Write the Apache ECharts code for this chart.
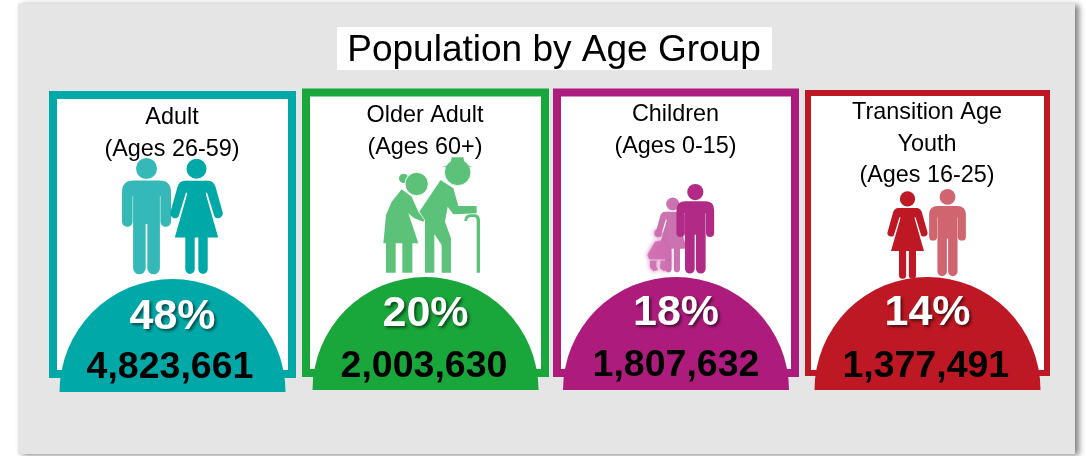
<!DOCTYPE html>
<html>
<head>
<meta charset="utf-8">
<style>html,body{margin:0;padding:0;background:#fff}#chart{width:1086px;height:456px}</style>
<script src="https://cdn.jsdelivr.net/npm/echarts@6/dist/echarts.min.js"></script>
</head>
<body>
<div id="chart"></div>
<script>
// Values shown on the age group cards
const chartTitle = 'Population by Age Group';
const categories = ['Adult', 'Older Adult', 'Children', 'Transition Age Youth'];
const labelLines = [
  ['Adult', '(Ages 26-59)'],
  ['Older Adult', '(Ages 60+)'],
  ['Children', '(Ages 0-15)'],
  ['Transition Age', 'Youth', '(Ages 16-25)']
];
const sharePercent = [48, 20, 18, 14];
const population = [4823661, 2003630, 1807632, 1377491];

// Palette per card
const mainColors = ['#00a9a8', '#19a63a', '#ad1c7c', '#bd1823'];
const softColors = ['#35b9b8', '#5cc27a', '#cb72b0', '#d0656f'];

// Card frames, measured from the band centre of each category
const frames = [
  { nudge: 0.5, top: 91, bottom: 378, half: 123.5, border: 8, domeBase: 392, percentY: 317, countY: 368, countDx: -2.5, firstLine: 118 },
  { nudge: 1.5, top: 88.5, bottom: 377, half: 123.5, border: 8, domeBase: 390, percentY: 314, countY: 366.5, countDx: -1.5, firstLine: 116 },
  { nudge: 0, top: 88.5, bottom: 377, half: 123, border: 8, domeBase: 390, percentY: 313, countY: 365.5, countDx: 0, firstLine: 115 },
  { nudge: -0.5, top: 90, bottom: 376, half: 122.5, border: 6, domeBase: 390, percentY: 313, countY: 366.5, countDx: -1.7, firstLine: 113 }
];
const domeRadius = 113;
const lineGap = 31.5;

const circle = (cx, cy, r) => `M${cx - r},${cy} A${r},${r} 0 1 1 ${cx + r},${cy} A${r},${r} 0 1 1 ${cx - r},${cy} Z`;

// Standing figures, origin at top centre of the head, 117 units tall
const manParts = [
  circle(0, 10.5, 10.5),
  'M-13,22.5 L13,22.5 Q24.5,22.5 24.5,34 L24.5,63.5 A5.3,5.3 0 0 1 13.9,63.5 L13.9,38 L13.4,38 ' +
  'L13.4,110 A6.3,6.3 0 0 1 0.8,110 L0.8,66 L-0.8,66 L-0.8,110 A6.3,6.3 0 0 1 -13.4,110 L-13.4,38 L-13.9,38 ' +
  'L-13.9,63.5 A5.3,5.3 0 0 1 -24.5,63.5 L-24.5,34 Q-24.5,22.5 -13,22.5 Z'
];
const womanParts = [
  circle(0, 10, 10),
  'M-9,22 L9,22 L9.5,36 L21.7,78.7 L11.2,78.7 L11.2,110.5 A4.7,4.7 0 0 1 1.8,110.5 L1.8,78.7 L-1.8,78.7 L-1.8,110.5 A4.7,4.7 0 0 1 -11.2,110.5 L-11.2,78.7 L-21.7,78.7 L-9.5,36 Z',
  'M8,22 L12,22 Q17,22 19,28 L26,53 A4.8,4.8 0 0 1 18,58 L10.6,34 L8,34 Z',
  'M-8,22 L-12,22 Q-17,22 -19,28 L-26,53 A4.8,4.8 0 0 0 -18,58 L-10.6,34 L-8,34 Z'
];
// Toddler at the woman's hand, drawn at triple scale
const toddlerParts = [
  circle(55, 160, 12),
  'M45,185 L72,180 L95,230 L85,238 L28,238 L22,225 Z',
  'M30,242 L50,242 L48,258 L54,270 L40,274 L30,262 Z',
  'M62,242 L92,242 L90,265 L72,274 L60,265 Z'
];
// Elderly couple with a cane, drawn at triple scale; heads are ringed in white
const coupleParts = [
  'M197,90 L235,115 L250,168 L305,168 L305,190 L235,193 L218,170 L210,215 L228,265 L228,368 L200,368 L200,285 L178,252 L178,368 L150,368 L150,210 L133,185 Z',
  'M80,118 L110,140 L130,185 L148,210 L145,215 L118,205 L100,190 L130,280 L112,280 L112,368 L82,368 L82,280 L62,280 L62,368 L33,368 L33,280 L25,280 L33,195 L50,155 Z',
  'M268,213 Q268,195 285,193 L300,193 Q315,195 315,210 L315,368 L305,368 L305,210 Q305,202 298,201 L288,201 Q276,203 276,213 Z',
  circle(86, 85, 14)
];
const coupleHeads = [
  circle(248, 67, 40),
  circle(125, 102, 35)
];
const coupleHat = 'M230,22 L265,22 L270,44 L293,50 L200,50 L225,44 Z';

// Figures placed in each card: offset from the card centre, scale and tone
const figures = [
  [
    { parts: manParts, dx: -26, y: 158, scale: 1, tone: 'soft' },
    { parts: womanParts, dx: 24, y: 158.7, scale: 1, tone: 'main' }
  ],
  [{
    parts: coupleParts, ringed: coupleHeads, cap: coupleHat,
    dx: -50.5, y: 150, scale: 1 / 3, tone: 'soft'
  }],
  [
    { parts: womanParts, dx: -3.3, y: 197.5, scale: 0.65, tone: 'soft' },
    { parts: manParts, dx: 19.3, y: 184, scale: 0.77, tone: 'dark' },
    { parts: toddlerParts, dx: -36, y: 180, scale: 1 / 3, tone: 'soft', blur: 5 }
  ],
  [
    { parts: womanParts, dx: -20, y: 191.3, scale: 0.76, tone: 'main' },
    { parts: manParts, dx: 20, y: 189, scale: 0.75, tone: 'soft' }
  ]
];

const bodyFont = '"Liberation Sans", Arial, sans-serif';

function figureChildren(fig, tone) {
  const solid = fig.parts.map((pathData) => ({
    type: 'path',
    shape: { pathData },
    style: fig.blur
      ? { fill: '#cf6fb2', opacity: 0.9, shadowBlur: fig.blur, shadowColor: '#c860a8' }
      : { fill: tone }
  }));
  const ringed = (fig.ringed || []).map((pathData) => ({
    type: 'path',
    shape: { pathData },
    style: { fill: tone, stroke: '#fff', lineWidth: 3 }
  }));
  const cap = fig.cap ? [{ type: 'path', shape: { pathData: fig.cap }, style: { fill: tone } }] : [];
  return solid.concat(ringed, cap);
}

function renderCard(params, api) {
  const i = api.value(0);
  const f = frames[i];
  const cx = api.coord([i, 0])[0] + f.nudge;
  const color = mainColors[i];
  const children = [];

  // Frame with a white interior
  children.push({
    type: 'rect',
    shape: { x: cx - f.half, y: f.top, width: f.half * 2, height: f.bottom - f.top },
    style: { fill: color }
  });
  children.push({
    type: 'rect',
    shape: {
      x: cx - f.half + f.border, y: f.top + f.border,
      width: (f.half - f.border) * 2, height: f.bottom - f.top - f.border * 2
    },
    style: { fill: '#fff' }
  });

  // Group name and age range
  labelLines[i].forEach((line, n) => {
    children.push({
      type: 'text',
      style: {
        x: cx - 0.5, y: f.firstLine + n * lineGap, text: line,
        fill: '#000', font: '23.4px ' + bodyFont, align: 'center', verticalAlign: 'middle'
      }
    });
  });

  // People
  figures[i].forEach((fig) => {
    const tone = fig.tone === 'soft' ? softColors[i] : fig.tone === 'dark' ? '#b02a86' : color;
    children.push({
      type: 'group',
      x: cx + fig.dx,
      y: fig.y,
      scaleX: fig.scale,
      scaleY: fig.scale,
      children: figureChildren(fig, tone)
    });
  });

  // Dome holding the figures
  children.push({
    type: 'path',
    shape: {
      pathData: `M${cx - domeRadius},${f.domeBase} A${domeRadius},${domeRadius} 0 0 1 ${cx + domeRadius},${f.domeBase} Z`
    },
    style: { fill: color }
  });

  // Share and head count
  children.push({
    type: 'text',
    style: {
      x: cx, y: f.percentY, text: sharePercent[i] + '%',
      fill: '#fff', font: 'bold 43px ' + bodyFont, align: 'center', verticalAlign: 'middle',
      textShadowColor: 'rgba(0,0,0,0.55)', textShadowBlur: 3, textShadowOffsetX: 2, textShadowOffsetY: 2
    }
  });
  children.push({
    type: 'text',
    style: {
      x: cx + f.countDx, y: f.countY, text: population[i].toLocaleString('en-US'),
      fill: '#000', font: 'bold 37.5px ' + bodyFont, align: 'center', verticalAlign: 'middle'
    }
  });

  return { type: 'group', children };
}

const chart = echarts.init(document.getElementById('chart'), null, { renderer: 'canvas' });
chart.setOption({
  animation: false,
  backgroundColor: '#fff',
  graphic: [
    {
      type: 'rect',
      shape: { x: 18, y: 3.5, width: 1057, height: 450.5 },
      style: { fill: '#e5e5e5', shadowColor: 'rgba(0,0,0,0.5)', shadowBlur: 6, shadowOffsetX: 4, shadowOffsetY: 1 }
    },
    {
      type: 'rect',
      shape: { x: 337, y: 27, width: 435, height: 43 },
      style: { fill: '#fff' }
    },
    {
      type: 'text',
      x: 554,
      y: 51,
      style: {
        text: chartTitle, fill: '#000', font: '37px ' + bodyFont,
        align: 'center', verticalAlign: 'middle'
      }
    }
  ],
  grid: { left: 46, width: 1008, top: 0, height: 456 },
  xAxis: { type: 'category', data: categories, show: false },
  yAxis: { type: 'value', min: 0, max: 100, show: false },
  series: [{
    type: 'custom',
    renderItem: renderCard,
    encode: { x: 0, y: 1 },
    data: categories.map((name, i) => [i, sharePercent[i]]),
    clip: false
  }]
});
</script>
</body>
</html>
